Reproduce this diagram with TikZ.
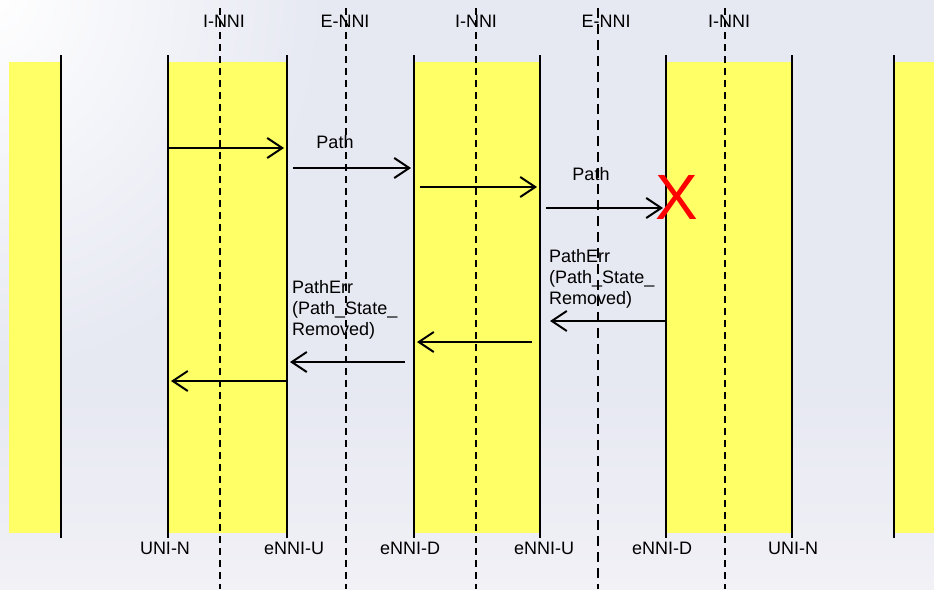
\documentclass[tikz,border=0pt]{standalone}
\usepackage{fontspec}
\setmainfont{Liberation Sans}
\usetikzlibrary{arrows.meta}
\usepackage{xcolor}
\definecolor{bgc}{RGB}{230,232,242}
\definecolor{bgl}{RGB}{241,241,246}
\definecolor{domc}{RGB}{255,255,102}
\tikzset{
  lbl/.style={font=\fontsize{18}{21}\selectfont, inner sep=0pt},
  note/.style={lbl, align=left, anchor=west},
  life/.style={line width=2pt, black},
  iface/.style={line width=1.6pt, dash pattern=on 7pt off 5pt},
  eface/.style={line width=2.6pt, dash pattern=on 10pt off 6pt},
  msg/.style={line width=2pt, -{Straight Barb[length=15pt,width=20pt,line width=2pt]}, shorten >=3pt},
  nwzone/.style={fill=domc, draw=none},
  fail/.style={font=\fontsize{64}{64}\selectfont, text=red, inner sep=0pt}
}

\begin{document}
\begin{tikzpicture}[x=1pt,y=-1pt]
  \useasboundingbox (0,0) rectangle (934,589);
  % ---- background ----
  \begin{scope}
    \clip (0,0) rectangle (934,589);
    \fill[bgc] (0,0) rectangle (934,589);
    \shade[top color=bgc, bottom color=bgl] (0,380) rectangle (934,589);
    \shade[inner color=white, outer color=bgc] (-10,-10) ellipse (340 and 390);
  \end{scope}

  % ---- lifelines and boundaries ----
  \foreach \x/\n in {61/a,168/b,287/c,414/d,540/e,666/f,792/g,894/h}
    \coordinate (\n) at (\x,0);
  \foreach \x/\n in {220/i1,346/e1,476/i2,598/e2,725/i3}
    \coordinate (\n) at (\x,0);

  % ---- network zones ----
  \fill[nwzone] (9,62) rectangle (a |- 0,533);
  \fill[nwzone] (b |- 0,62) rectangle (c |- 0,533);
  \fill[nwzone] (d |- 0,62) rectangle (e |- 0,533);
  \fill[nwzone] (f |- 0,62) rectangle (g |- 0,533);
  \fill[nwzone] (h |- 0,62) rectangle (934,533);

  \foreach \n in {a,b,c,d,e,f,g,h}
    \draw[life] (\n |- 0,55) -- (\n |- 0,538);

  % ---- labels ----
  \node[lbl] (ti1) at (224,21) {I-NNI};
  \node[lbl] (te1) at (345,21) {E-NNI};
  \node[lbl] (ti2) at (476,21) {I-NNI};
  \node[lbl] (te2) at (606,21) {E-NNI};
  \node[lbl] (ti3) at (729,21) {I-NNI};

  \node[lbl] (bb) at (165,548) {UNI-N};
  \node[lbl] (bc) at (294,548) {eNNI-U};
  \node[lbl] (bd) at (410,548) {eNNI-D};
  \node[lbl] (be) at (544,548) {eNNI-U};
  \node[lbl] (bf) at (662,548) {eNNI-D};
  \node[lbl] (bg) at (793,548) {UNI-N};

  \node[lbl] (path1) at (335,142) {Path};
  \node[lbl] (path2) at (591,174) {Path};
  \node[note] (err1) at (549,279) {PathErr\\(Path\_State\_\\Removed)};
  \node[note] (err2) at (292,310) {PathErr\\(Path\_State\_\\Removed)};

  % ---- boundaries (dashed) ----
  \foreach \n in {i1,i2,i3}
    \draw[iface] (\n |- 0,8) -- (\n |- 0,589);
  \draw[iface] (e1 |- 0,8) -- (e1 |- 0,589);
  \draw[eface] (e2 |- 0,8) -- (e2 |- 0,589);

  % ---- messages ----
  \draw[msg] (b |- 0,148) -- (c |- 0,148);
  \draw[msg, shorten <=6pt] (c |- 0,168) -- (d |- 0,168);
  \draw[msg, shorten <=6pt] (d |- 0,187) -- (e |- 0,187);
  \draw[msg, shorten <=6pt] (e |- 0,208) -- (f |- 0,208);
  \node[fail] (cut) at (677,197) {X};

  \draw[msg, shorten >=10pt] (f |- 0,321) -- (e |- 0,321);
  \draw[msg, shorten <=8pt] (e |- 0,342) -- (d |- 0,342);
  \draw[msg, shorten <=9pt] (d |- 0,362) -- (c |- 0,362);
  \draw[msg] (c |- 0,381) -- (b |- 0,381);
\end{tikzpicture}
\end{document}
